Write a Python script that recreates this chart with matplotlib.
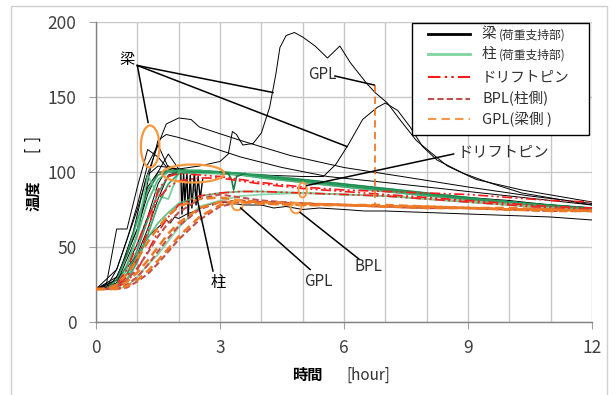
import matplotlib
matplotlib.use("Agg")
import matplotlib.pyplot as plt
from matplotlib.patches import Rectangle, Ellipse
from matplotlib.lines import Line2D

plt.rcParams['font.family'] = ['Noto Sans CJK JP', 'DejaVu Sans']

# ---------------- data ----------------
T = [0, 0.25, 0.5, 0.75, 1.0, 1.25, 1.5, 1.75, 2.0, 2.5, 3.0, 3.5, 4.0, 5.0, 6.0, 7.0, 8.0, 9.0, 10.0, 11.0, 12.0]

# beams (black) on common grid
beam_early = [
    [22, 25, 62, 62, 90, 115, 110, 102, 100, 100, 99, 98, 97, 94, 91, 88, 85, 82, 80, 78, 76],
    [22, 23, 35, 55, 78, 105, 118, 103, 101, 100, 99, 98, 97, 94, 91, 88, 85, 83, 80, 78, 76],
    [22, 22, 30, 45, 62, 85, 100, 112, 102, 100, 100, 99, 97, 95, 92, 89, 86, 83, 81, 78, 76],
    [22, 22, 26, 38, 52, 70, 92, 104, 101, 101, 100, 98, 97, 94, 91, 88, 85, 82, 80, 78, 75],
    [22, 22, 24, 32, 45, 62, 82, 98, 100, 100, 99, 98, 96, 93, 90, 87, 84, 82, 79, 77, 75],
]
beam1_t = [0, 0.5, 1.0, 1.25, 1.5, 2.0, 2.5, 3.0, 3.2, 3.3, 3.4, 3.55, 3.8, 4.0, 4.2, 4.35, 4.45, 4.6, 4.8,
           5.0, 5.3, 5.6, 5.75, 5.9, 6.15, 6.55, 6.75, 7.05, 7.35, 7.75, 8.1, 8.5, 9.2, 10.3, 12]
beam1_y = [22, 35, 75, 98, 104, 102, 104, 107, 112, 127, 125, 118, 119, 126, 143, 165, 183, 191, 193,
           190, 184, 176, 180, 184, 173, 159, 153, 146, 135, 121, 113, 104, 95, 88, 80]
beam2_t = [0, 0.5, 1.0, 1.25, 1.5, 2.0, 3.0, 4.0, 5.0, 5.5, 5.8, 6.1, 6.45, 6.8, 7.0, 7.3, 7.6, 7.9, 8.25,
           8.9, 9.5, 10.3, 12]
beam2_y = [22, 30, 62, 90, 100, 100, 99, 98, 97, 97, 105, 118, 135, 143, 146, 141, 130, 117, 108,
           99, 93, 86, 78]
beam3_t = [0, 0.5, 0.9, 1.2, 1.5, 1.7, 2.0, 2.3, 2.5, 3.5, 4.7, 6.0, 7.4, 9.0, 10.5, 12]
beam3_y = [22, 28, 60, 95, 118, 132, 136, 135, 130, 121, 111, 103, 97, 90, 84, 79]
beam4_t = [0, 0.5, 1.0, 1.3, 1.5, 1.7, 2.0, 2.5, 3.5, 4.5, 5.6, 7.0, 9.0, 12]
beam4_y = [22, 26, 58, 100, 121, 125, 123, 119, 110, 103, 97, 93, 87, 78]
beam_low_t = [0, 0.5, 1.0, 1.3, 1.5, 1.7, 1.8, 1.9, 2.0, 2.2, 2.4, 2.6, 2.8, 3.0, 3.3, 3.6, 4.0, 4.3,
              4.6, 5.0, 5.4, 6.0, 6.5, 7, 8, 9, 10, 11, 12]
beam_low_y = [22, 28, 45, 58, 63, 68, 66, 70, 69, 72, 74, 77, 79, 80, 79, 78, 78, 76, 77, 75, 76,
              75, 74, 74, 73, 72, 71, 70, 68]
spike_t = [2.05, 2.08, 2.12, 2.15, 2.2, 2.23, 2.28, 2.32, 2.38, 2.42, 2.47, 2.52, 2.58]
spike_y = [100, 72, 99, 80, 100, 70, 98, 76, 100, 78, 97, 82, 95]

# columns (green) on common grid
column_curves = [
    [22, 22, 28, 45, 68, 88, 98, 101, 101, 101, 100, 99, 98, 95, 92, 89, 86, 83, 80, 78, 76],
    [22, 22, 25, 38, 58, 80, 95, 100, 101, 101, 100, 99, 97, 94, 91, 88, 85, 82, 80, 77, 75],
    [22, 22, 24, 32, 48, 68, 86, 97, 100, 100, 99, 98, 97, 94, 91, 88, 85, 82, 79, 77, 75],
    [22, 22, 24, 35, 60, 98, 84, 82, 100, 99, 99, 98, 96, 93, 90, 87, 84, 81, 79, 77, 75],
    [22, 22, 23, 28, 40, 58, 78, 92, 99, 100, 100, 99, 97, 94, 91, 88, 85, 82, 80, 77, 75],
    [22, 22, 24, 28, 45, 56, 66, 73, 79, 84, 86, 87, 87, 86, 85, 84, 82, 80, 78, 76, 75],
    [22, 22, 22, 24, 30, 38, 45, 54, 63, 77, 81, 84, 85, 86, 85, 84, 82, 80, 78, 76, 74],
]
notch_t = [3.0, 3.2, 3.28, 3.33, 3.4, 3.6]
notch_y = [100, 99, 95, 88, 97, 99]

# drift pins (red dash-dot)
driftpin_curves = [
    [22, 22, 24, 30, 42, 60, 88, 97, 99, 98, 97, 95, 93, 90, 88, 87, 86, 85, 83, 81, 80],
    [22, 22, 25, 35, 52, 70, 82, 90, 94, 96, 96, 94, 92, 89, 87, 85, 83, 81, 79, 77, 76],
    [22, 22, 23, 27, 35, 47, 60, 70, 78, 84, 86, 87, 87, 86, 85, 84, 82, 80, 78, 76, 75],
]
# BPL (column side)
bpl_curves = [
    [22, 22, 24, 28, 36, 46, 57, 66, 73, 82, 85, 83, 81, 79, 78, 77, 76, 76, 75, 75, 74],
    [22, 22, 22, 25, 30, 38, 47, 56, 64, 75, 80, 81, 80, 79, 78, 77, 76, 76, 75, 75, 74],
    [22, 22, 22, 23, 27, 32, 39, 47, 55, 68, 77, 80, 80, 79, 78, 77, 76, 76, 75, 74, 74],
]
# GPL (beam side)
gpl_curves = [
    [22, 22, 25, 32, 42, 53, 63, 71, 77, 82, 83, 81, 80, 79, 78, 78, 77, 76, 76, 75, 74],
    [22, 22, 23, 27, 33, 41, 50, 59, 66, 76, 80, 80, 79, 78, 78, 77, 77, 76, 75, 75, 74],
    [22, 22, 22, 24, 28, 34, 41, 49, 57, 70, 78, 80, 79, 78, 78, 77, 76, 76, 75, 74, 74],
]
gpl_marker_t = [6.75, 6.75]
gpl_marker_y = [158, 78]

x_ticks = [0, 3, 6, 9, 12]
y_ticks = [0, 50, 100, 150, 200]

legend_labels = [("梁", "(荷重支持部)"), ("柱", "(荷重支持部)"), ("ドリフトピン", ""),
                 ("BPL(柱側)", ""), ("GPL(梁側 )", "")]

# ---------------- figure ----------------
W, H = 615, 395
fig = plt.figure(figsize=(W / 100, H / 100), dpi=100)
ax = fig.add_axes([96 / W, 1 - 322 / H, 496 / W, 300 / H])

def fx(px):
    return px / W

def fy(py):
    return 1 - py / H

BLACK = '#000000'
greens = ['#1f9a55', '#3cb371', '#2e8b57', '#5cc58a', '#239b5c', '#48b878', '#79d19e']
RED = '#ff1a1a'
BPL_C = '#c0504d'
GPL_C = '#ee7a26'

for ys in beam_early:
    ax.plot(T, ys, color=BLACK, lw=0.7, zorder=2)
ax.plot(beam1_t, beam1_y, color=BLACK, lw=0.7, zorder=2)
ax.plot(beam2_t, beam2_y, color=BLACK, lw=0.7, zorder=2)
ax.plot(beam3_t, beam3_y, color=BLACK, lw=0.7, zorder=2)
ax.plot(beam4_t, beam4_y, color=BLACK, lw=0.7, zorder=2)
ax.plot(beam_low_t, beam_low_y, color=BLACK, lw=0.7, zorder=2)
ax.plot(spike_t, spike_y, color=BLACK, lw=1.0, zorder=2)

for i, ys in enumerate(column_curves):
    ax.plot(T, ys, color=greens[i % len(greens)], lw=1.3, alpha=0.85, zorder=3)
ax.plot(notch_t, notch_y, color='#1f7a45', lw=1.2, zorder=3)

for ys in driftpin_curves:
    ax.plot(T, ys, color=RED, lw=1.2, ls=(0, (6, 2, 1.2, 2, 1.2, 2)), zorder=4)
for ys in bpl_curves:
    ax.plot(T, ys, color=BPL_C, lw=1.5, ls=(0, (3, 1.5)), zorder=4)
for ys in gpl_curves:
    ax.plot(T, ys, color=GPL_C, lw=1.8, ls=(0, (3.5, 2)), zorder=5)
ax.plot(gpl_marker_t, gpl_marker_y, color=GPL_C, lw=1.3, ls=(0, (4, 2.5)), zorder=5)

# axes styling
ax.set_xlim(0, 12)
ax.set_ylim(0, 200)
ax.set_xticks(x_ticks)
ax.set_yticks(y_ticks)
ax.set_xticks(range(0, 13), minor=True)
ax.grid(True, which='both', axis='x', color='#c8c8c8', lw=1.0, zorder=0)
ax.grid(True, which='major', axis='y', color='#c8c8c8', lw=1.0, zorder=0)
ax.tick_params(axis='x', which='minor', length=0)
ax.tick_params(axis='both', which='major', length=5, color='#a0a0a0', labelsize=12.5,
               labelcolor='#404040', direction='out')
ax.tick_params(axis='y', pad=9)
ax.tick_params(axis='x', pad=7)
ax.set_axisbelow(True)
for s in ['top', 'right']:
    ax.spines[s].set_visible(False)
for s in ['left', 'bottom']:
    ax.spines[s].set_color('#808080')
    ax.spines[s].set_linewidth(1.0)

# annotations
ann_kw = dict(color='black', lw=1.1, zorder=6)
ax.text(0.75, 175, "梁", fontsize=11, ha='center', va='center', zorder=7)
ax.plot([1.0, 4.28], [171, 153], **ann_kw)
ax.plot([1.0, 6.07], [171, 117], **ann_kw)
ax.plot([1.0, 1.26], [171, 133], **ann_kw)

ax.add_patch(Ellipse((1.31, 117), 0.45, 28, fill=False, ec='#f7983e', lw=1.6, zorder=6))
ax.add_patch(Ellipse((2.35, 99), 1.5, 12, fill=False, ec='#f7983e', lw=1.6, zorder=6))
ax.add_patch(Ellipse((5.0, 88), 0.2, 10, fill=False, ec='#f7983e', lw=1.4, zorder=6))
ax.add_patch(Ellipse((3.42, 78), 0.26, 7, fill=False, ec='#f7983e', lw=1.4, zorder=6))
ax.add_patch(Ellipse((4.84, 76), 0.26, 7, fill=False, ec='#f7983e', lw=1.4, zorder=6))

ax.text(2.95, 26, "柱", fontsize=11, ha='center', va='center', zorder=7)
ax.plot([2.83, 2.4], [34, 88], **ann_kw)
ax.text(5.37, 27, "GPL", fontsize=11, ha='center', va='center', color='#303030', zorder=7)
ax.plot([5.18, 3.5], [35, 76], **ann_kw)
ax.text(6.6, 37, "BPL", fontsize=11, ha='center', va='center', color='#303030', zorder=7)
ax.plot([6.36, 4.94], [42, 73], **ann_kw)
ax.text(8.75, 113, "ドリフトピン", fontsize=11, ha='left', va='center', color='#303030', zorder=7)
ax.plot([8.65, 5.1], [112, 91], **ann_kw)
ax.text(5.47, 165, "GPL", fontsize=11, ha='center', va='center', color='#303030', zorder=7)
ax.plot([5.78, 6.73], [164, 158], **ann_kw)

# axis labels
fig.text(fx(307), fy(375), "時間", fontsize=11, fontweight='bold', ha='center', va='center')
fig.text(fx(368), fy(375), "[hour]", fontsize=11, ha='center', va='center', color='#303030')
fig.text(fx(33), fy(196), "温度", fontsize=11, fontweight='bold', ha='center', va='center', rotation=90)
fig.text(fx(33), fy(145), "[  ]", fontsize=11, ha='center', va='center', rotation=90)

# manual legend
fig.add_artist(Rectangle((fx(412), fy(135)), (589 - 412) / W, (135 - 23) / H,
                         transform=fig.transFigure, facecolor='white', edgecolor='black',
                         lw=1.0, zorder=10))
rows = [34, 54, 77, 99, 119]
styles = [dict(color='black', lw=2.0, ls='-'),
          dict(color='#7fd4a0', lw=2.0, ls='-'),
          dict(color=RED, lw=1.5, ls=(0, (6, 2, 1.2, 2, 1.2, 2))),
          dict(color=BPL_C, lw=1.5, ls=(0, (3, 1.5))),
          dict(color='#f79646', lw=1.5, ls=(0, (4, 2.5)))]
for py, st, (main, sub) in zip(rows, styles, legend_labels):
    fig.add_artist(Line2D([fx(428), fx(470)], [fy(py), fy(py)], transform=fig.transFigure,
                          zorder=11, **st))
    t = fig.text(fx(482), fy(py), main, fontsize=10.5, ha='left', va='center', color='#303030',
                 zorder=12)
    if sub:
        fig.text(fx(499), fy(py + 1), sub, fontsize=8.5, ha='left', va='center', color='#303030',
                 zorder=12)

# outer light border
fig.add_artist(Rectangle((fx(10.5), -0.01), (607 - 10.5) / W, fy(6) + 0.01,
                         transform=fig.transFigure, fill=False, ec='#d0d0d0', lw=1.0, zorder=0))

fig.savefig("out.png", dpi=100)
